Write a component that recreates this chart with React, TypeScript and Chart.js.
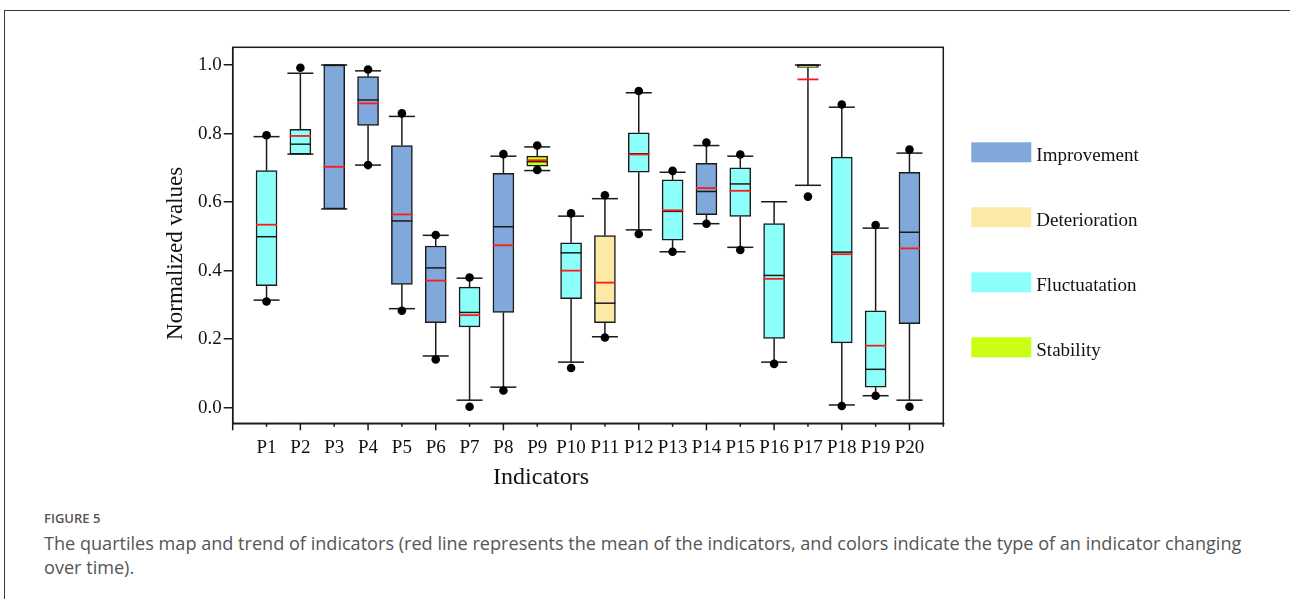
import React, { useEffect, useRef } from "react";
import { Chart, registerables } from "chart.js";

Chart.register(...registerables);

const categories = ["P1", "P2", "P3", "P4", "P5", "P6", "P7", "P8", "P9", "P10", "P11", "P12", "P13", "P14", "P15", "P16", "P17", "P18", "P19", "P20"];
const whiskerLow = [0.314, 0.740, 0.580, 0.708, 0.289, 0.151, 0.022, 0.060, 0.692, 0.133, 0.207, 0.519, 0.455, 0.537, 0.468, 0.133, 0.649, 0.008, 0.035, 0.022];
const q1 = [0.356, 0.740, 0.580, 0.824, 0.360, 0.248, 0.236, 0.278, 0.705, 0.318, 0.248, 0.687, 0.489, 0.563, 0.558, 0.202, 0.993, 0.189, 0.060, 0.245];
const median = [0.499, 0.769, 1.000, 0.898, 0.545, 0.408, 0.278, 0.528, 0.718, 0.452, 0.305, 0.741, 0.573, 0.631, 0.653, 0.386, 1.000, 0.454, 0.112, 0.512];
const q3 = [0.692, 0.812, 1.000, 0.966, 0.765, 0.472, 0.352, 0.684, 0.734, 0.481, 0.502, 0.802, 0.665, 0.713, 0.700, 0.537, 1.000, 0.731, 0.283, 0.687];
const whiskerHigh = [0.791, 0.976, 1.000, 0.983, 0.850, 0.503, 0.378, 0.734, 0.761, 0.559, 0.610, 0.919, 0.687, 0.765, 0.734, 0.601, 1.000, 0.877, 0.524, 0.743];
const mean = [0.534, 0.793, 0.703, 0.888, 0.564, 0.371, 0.270, 0.474, 0.722, 0.400, 0.365, 0.739, 0.576, 0.641, 0.633, 0.376, 0.958, 0.448, 0.181, 0.465];
const dotHigh = [0.795, 0.992, null, 0.987, 0.859, 0.504, 0.380, 0.740, 0.765, 0.567, 0.620, 0.924, 0.691, 0.774, 0.739, null, null, 0.885, 0.533, 0.753];
const dotLow = [0.310, null, null, 0.708, 0.283, 0.141, 0.003, 0.050, 0.694, 0.116, 0.205, 0.507, 0.455, 0.537, 0.460, 0.128, 0.616, 0.005, 0.035, 0.003];
const trendType = [
  "Fluctuatation", "Fluctuatation", "Improvement", "Improvement", "Improvement",
  "Improvement", "Fluctuatation", "Improvement", "Stability", "Fluctuatation",
  "Deterioration", "Fluctuatation", "Fluctuatation", "Improvement", "Fluctuatation",
  "Fluctuatation", "Stability", "Fluctuatation", "Fluctuatation", "Improvement",
];
const legendLabels = ["Improvement", "Deterioration", "Fluctuatation", "Stability"];
const legendColors = ["#80a8da", "#fde9a6", "#8cfffa", "#c8ff14"];
const yTicks = [0, 0.2, 0.4, 0.6, 0.8, 1.0];
const xTitle = "Indicators";
const yTitle = "Normalized values";

const SERIF = "'Liberation Serif', 'Times New Roman', serif";
const INK = "#1a1a1a";

const colorOf = (t: string) => legendColors[legendLabels.indexOf(t)];
const xTickValues = [0, ...categories.map((_, i) => i + 1), categories.length + 1];

const boxPlugin = {
  id: "boxExtras",
  beforeDatasetsDraw(chart: any) {
    const { ctx, scales } = chart;
    const x = scales.x;
    const y = scales.y;
    ctx.save();
    ctx.strokeStyle = INK;
    ctx.lineWidth = 1.5;
    categories.forEach((_, i) => {
      const px = x.getPixelForValue(i + 1);
      const seg = (x1: number, y1: number, x2: number, y2: number) => {
        ctx.beginPath();
        ctx.moveTo(x1, y1);
        ctx.lineTo(x2, y2);
        ctx.stroke();
      };
      const yHi = y.getPixelForValue(whiskerHigh[i]);
      const yLo = y.getPixelForValue(whiskerLow[i]);
      seg(px, yHi, px, y.getPixelForValue(q3[i]));
      seg(px, y.getPixelForValue(q1[i]), px, yLo);
      seg(px - 13, yHi, px + 13, yHi);
      seg(px - 13, yLo, px + 13, yLo);
    });
    ctx.restore();
  },
  afterDatasetDraw(chart: any, args: any) {
    if (args.index !== 0) return;
    const { ctx, scales } = chart;
    const x = scales.x;
    const y = scales.y;
    ctx.save();
    categories.forEach((_, i) => {
      const px = x.getPixelForValue(i + 1);
      const ym = y.getPixelForValue(median[i]);
      ctx.strokeStyle = INK;
      ctx.lineWidth = 1.5;
      ctx.beginPath();
      ctx.moveTo(px - 10.5, ym);
      ctx.lineTo(px + 10.5, ym);
      ctx.stroke();
      const ya = y.getPixelForValue(mean[i]);
      ctx.strokeStyle = "#ff1a1a";
      ctx.lineWidth = 1.8;
      ctx.beginPath();
      ctx.moveTo(px - 10.5, ya);
      ctx.lineTo(px + 10.5, ya);
      ctx.stroke();
    });
    ctx.restore();
  },
  afterDraw(chart: any) {
    const { ctx, chartArea, scales } = chart;
    const x = scales.x;
    ctx.save();
    ctx.strokeStyle = INK;
    ctx.lineWidth = 1.5;
    ctx.strokeRect(chartArea.left, chartArea.top, chartArea.right - chartArea.left, chartArea.bottom - chartArea.top);
    // x tick marks: long at even positions, short at odd
    xTickValues.forEach((v) => {
      const px = x.getPixelForValue(v);
      ctx.beginPath();
      ctx.moveTo(px, chartArea.bottom);
      ctx.lineTo(px, chartArea.bottom + (v % 2 === 0 ? 7 : 3.5));
      ctx.stroke();
    });
    // axis titles
    ctx.fillStyle = "#111";
    ctx.textAlign = "center";
    ctx.textBaseline = "middle";
    ctx.font = `24px ${SERIF}`;
    ctx.fillText(xTitle, chartArea.left + (chartArea.right - chartArea.left) * 0.434, chartArea.bottom + 54);
    ctx.save();
    ctx.translate(chartArea.left - 57, chartArea.top + (chartArea.bottom - chartArea.top) * 0.548);
    ctx.rotate(-Math.PI / 2);
    ctx.font = `23px ${SERIF}`;
    ctx.fillText(yTitle, 0, 0);
    ctx.restore();
    // legend
    const bx = chartArea.right + 28;
    legendLabels.forEach((label, i) => {
      const cy = chartArea.top + 105 + i * 65;
      ctx.fillStyle = legendColors[i];
      ctx.fillRect(bx, cy - 10, 60, 20);
      ctx.fillStyle = "#111";
      ctx.font = `19px ${SERIF}`;
      ctx.textBaseline = "alphabetic";
      ctx.textAlign = "left";
      ctx.fillText(label, bx + 65, cy + 9);
    });
    ctx.restore();
  },
};

export default function App() {
  const ref = useRef<HTMLCanvasElement | null>(null);

  useEffect(() => {
    if (!ref.current) return;
    const chart = new Chart(ref.current, {
      type: "bar",
      data: {
        datasets: [
          {
            type: "bar",
            label: "box",
            data: categories.map((_, i) => ({ x: i + 1, y: [q1[i], q3[i]] })) as any,
            backgroundColor: trendType.map(colorOf),
            borderColor: INK,
            borderWidth: 1.5,
            borderSkipped: false,
            barThickness: 21,
            order: 2,
          } as any,
          {
            type: "scatter",
            label: "extremes",
            data: [
              ...categories.map((_, i) => (dotHigh[i] === null ? null : { x: i + 1, y: dotHigh[i] })),
              ...categories.map((_, i) => (dotLow[i] === null ? null : { x: i + 1, y: dotLow[i] })),
            ].filter(Boolean) as any,
            pointRadius: 4.3,
            pointBackgroundColor: "#000",
            pointBorderWidth: 0,
            order: 1,
          } as any,
        ],
      },
      options: {
        responsive: false,
        animation: false,
        events: [],
        layout: { padding: { left: 16.7, top: 17.3, right: 346.7, bottom: 14.7 } },
        plugins: { legend: { display: false }, tooltip: { enabled: false } },
        scales: {
          x: {
            type: "linear",
            min: 0,
            max: categories.length + 1,
            offset: false,
            afterBuildTicks: (s: any) => {
              s.ticks = xTickValues.map((v) => ({ value: v }));
            },
            afterFit: (s: any) => {
              s.height = 72;
            },
            ticks: {
              autoSkip: false,
              maxRotation: 0,
              padding: 7,
              color: "#111",
              font: { family: SERIF, size: 19 },
              callback: (v: any) => categories[Number(v) - 1] ?? "",
            },
            grid: { drawOnChartArea: false, tickLength: 6, color: "rgba(0,0,0,0)", lineWidth: 1.5, offset: false },
            border: { color: INK, width: 1.5 },
            title: { display: false },
          },
          y: {
            type: "linear",
            min: -0.0455,
            max: 1.0517,
            afterBuildTicks: (s: any) => {
              s.ticks = yTicks.map((v) => ({ value: v }));
            },
            afterFit: (s: any) => {
              s.width = 76;
            },
            ticks: {
              padding: 2,
              color: "#111",
              font: { family: SERIF, size: 19 },
              callback: (v: any) => Number(v).toFixed(1),
            },
            grid: { drawOnChartArea: false, tickLength: 9, color: INK, lineWidth: 1.5 },
            border: { color: INK, width: 1.5 },
            title: { display: false },
          },
        },
      },
      plugins: [boxPlugin],
    } as any);
    return () => chart.destroy();
  }, []);

  return (
    <div style={{ position: "absolute", left: 0, top: 0, width: 1290, height: 599, overflow: "hidden", background: "#fff" }}>
      <div
        style={{
          position: "absolute",
          left: 4,
          top: 10,
          width: 1300,
          height: 620,
          borderTop: "1px solid #3a3a3a",
          borderLeft: "1px solid #3a3a3a",
        }}
      />
      <canvas ref={ref} width={1150} height={480} style={{ position: "absolute", left: 140, top: 30 }} />
      <div
        style={{
          position: "absolute",
          left: 44,
          top: 509,
          fontFamily: "'Open Sans', 'Noto Sans', sans-serif",
          fontSize: 13,
          fontWeight: 600,
          color: "#555",
          lineHeight: "18px",
        }}
      >
        FIGURE 5
      </div>
      <div
        style={{
          position: "absolute",
          left: 44,
          top: 531,
          width: 1222,
          fontFamily: "'Open Sans', 'Noto Sans', sans-serif",
          fontSize: 18.1,
          color: "#555",
          lineHeight: "24px",
        }}
      >
        The quartiles map and trend of indicators (red line represents the mean of the indicators, and colors indicate the type of an indicator changing over time).
      </div>
    </div>
  );
}
